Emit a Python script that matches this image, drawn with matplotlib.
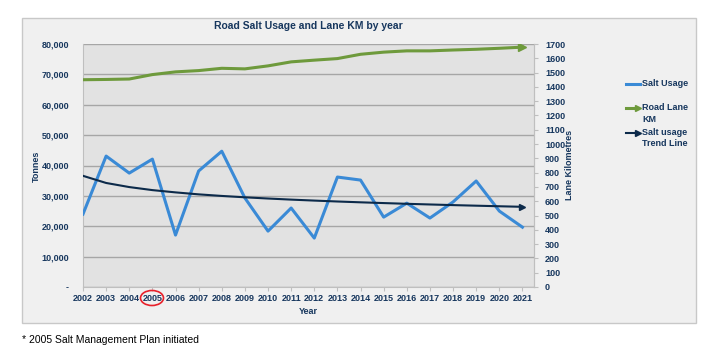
import matplotlib
matplotlib.use("Agg")
from matplotlib import pyplot as plt
from matplotlib.patches import Rectangle, Ellipse
from matplotlib.lines import Line2D
from matplotlib.ticker import FuncFormatter, MultipleLocator

plt.rcParams['font.family'] = ['Liberation Sans', 'DejaVu Sans']

years = [str(y) for y in range(2002, 2022)]
salt_usage = [24000, 43100, 37500, 42100, 17100, 38200, 44700, 29300, 18400, 26000,
              16100, 36200, 35200, 23000, 27600, 22700, 28000, 34900, 25000, 19700]
lane_km = [1450, 1452, 1455, 1486, 1505, 1514, 1530, 1526, 1547, 1575,
           1587, 1598, 1628, 1643, 1652, 1652, 1658, 1663, 1670, 1678]
trend = [36600, 34250, 32900, 31900, 31150, 30500, 29980, 29530, 29130, 28770,
         28450, 28150, 27880, 27630, 27390, 27170, 26960, 26770, 26580, 26400]

navy = '#17375e'
blue = '#3a8ad6'
green = '#6e9a3c'
dark = '#0c2a4a'

W, H = 711, 355
fig = plt.figure(figsize=(W / 100, H / 100), dpi=100)
fig.patch.set_facecolor('white')

# outer chart panel
fig.add_artist(Rectangle((22 / W, 1 - 323 / H), (696 - 22) / W, (323 - 18) / H,
                         transform=fig.transFigure, facecolor='#f0f0f0',
                         edgecolor='#c8c8c8', linewidth=1, zorder=0))

ax = fig.add_axes([83 / W, 1 - 287 / H, (534 - 83) / W, (287 - 44) / H])
ax.set_facecolor('#e2e2e2')
x = list(range(len(years)))

ax.set_ylim(0, 80000)
ax.set_xlim(0, 19.5)
ax.yaxis.set_major_locator(MultipleLocator(10000))
ax.yaxis.set_major_formatter(FuncFormatter(lambda v, p: '-' if v == 0 else f'{int(v):,}'))
ax.grid(axis='y', color='#a6a6a6', linewidth=1)
ax.set_axisbelow(True)
ax.set_xticks(x)
ax.set_xticklabels(years)
for s in ax.spines.values():
    s.set_color('#bfbfbf')
ax.spines['top'].set_visible(False)
ax.tick_params(axis='x', colors='#bfbfbf', length=3, labelcolor=navy, labelsize=6.5, pad=2)
ax.tick_params(axis='y', length=0, labelcolor=navy, labelsize=6.5, pad=10)
for lab in ax.get_xticklabels() + ax.get_yticklabels():
    lab.set_fontweight('bold')

ax.plot(x, salt_usage, color=blue, linewidth=2.2, zorder=3)
ax.plot(x, trend, color=dark, linewidth=1.5, zorder=4)
ax.plot(x[-1], trend[-1], marker='>', color=dark, markersize=5, zorder=4)

ax2 = ax.twinx()
ax2.set_ylim(0, 1700)
ax2.yaxis.set_major_locator(MultipleLocator(100))
ax2.plot(x, lane_km, color=green, linewidth=2.2, zorder=3)
ax2.plot(x[-1], lane_km[-1], marker='>', color=green, markersize=6, zorder=3)
for s in ax2.spines.values():
    s.set_visible(False)
ax2.spines['right'].set_visible(True)
ax2.spines['right'].set_color('#bfbfbf')
ax2.tick_params(axis='y', colors='#bfbfbf', length=3, labelcolor=navy, labelsize=6.5, pad=5)
for lab in ax2.get_yticklabels():
    lab.set_fontweight('bold')

ax.set_title('Road Salt Usage and Lane KM by year', fontsize=7.5, fontweight='bold',
             color=navy, pad=11)
ax.set_xlabel('Year', fontsize=6.5, fontweight='bold', color=navy, labelpad=3)
fig.text(36 / W, 1 - 166 / H, 'Tonnes', rotation=90, fontsize=6.5, fontweight='bold',
         color=navy, ha='center', va='center')
fig.text(570 / W, 1 - 165 / H, 'Lane Kilometres', rotation=90, fontsize=6.5,
         fontweight='bold', color=navy, ha='center', va='center')

# red circle around 2005 label
fig.add_artist(Ellipse((152 / W, 1 - 298 / H), 23 / W, 15 / H, transform=fig.transFigure,
                       fill=False, edgecolor='#e8202a', linewidth=1.2, zorder=5))

# legend
lx0, lx1, tx = 626 / W, 640 / W, 642 / W
fig.add_artist(Line2D([lx0, lx1], [1 - 84 / H] * 2, color=blue, linewidth=2.2,
                      transform=fig.transFigure))
fig.text(tx, 1 - 84 / H, 'Salt Usage', fontsize=6.5, fontweight='bold', color=navy, va='center')
fig.add_artist(Line2D([lx0, lx1 - 3 / W], [1 - 108 / H] * 2, color=green, linewidth=2.2,
                      transform=fig.transFigure))
fig.add_artist(Line2D([lx1 - 2 / W], [1 - 108 / H], marker='>', color=green, markersize=5,
                      transform=fig.transFigure))
fig.text(tx, 1 - 108 / H, 'Road Lane', fontsize=6.5, fontweight='bold', color=navy, va='center')
fig.text(tx, 1 - 119 / H, 'KM', fontsize=6.5, fontweight='bold', color=navy, va='center')
fig.add_artist(Line2D([lx0, lx1 - 3 / W], [1 - 133 / H] * 2, color=dark, linewidth=1.5,
                      transform=fig.transFigure))
fig.add_artist(Line2D([lx1 - 2 / W], [1 - 133 / H], marker='>', color=dark, markersize=4,
                      transform=fig.transFigure))
fig.text(tx, 1 - 133 / H, 'Salt usage', fontsize=6.5, fontweight='bold', color=navy, va='center')
fig.text(tx, 1 - 144 / H, 'Trend Line', fontsize=6.5, fontweight='bold', color=navy, va='center')

fig.text(22 / W, 1 - 340 / H, '* 2005 Salt Management Plan initiated', fontsize=7.5,
         color='black', va='center')

fig.savefig('out.png', dpi=100)
